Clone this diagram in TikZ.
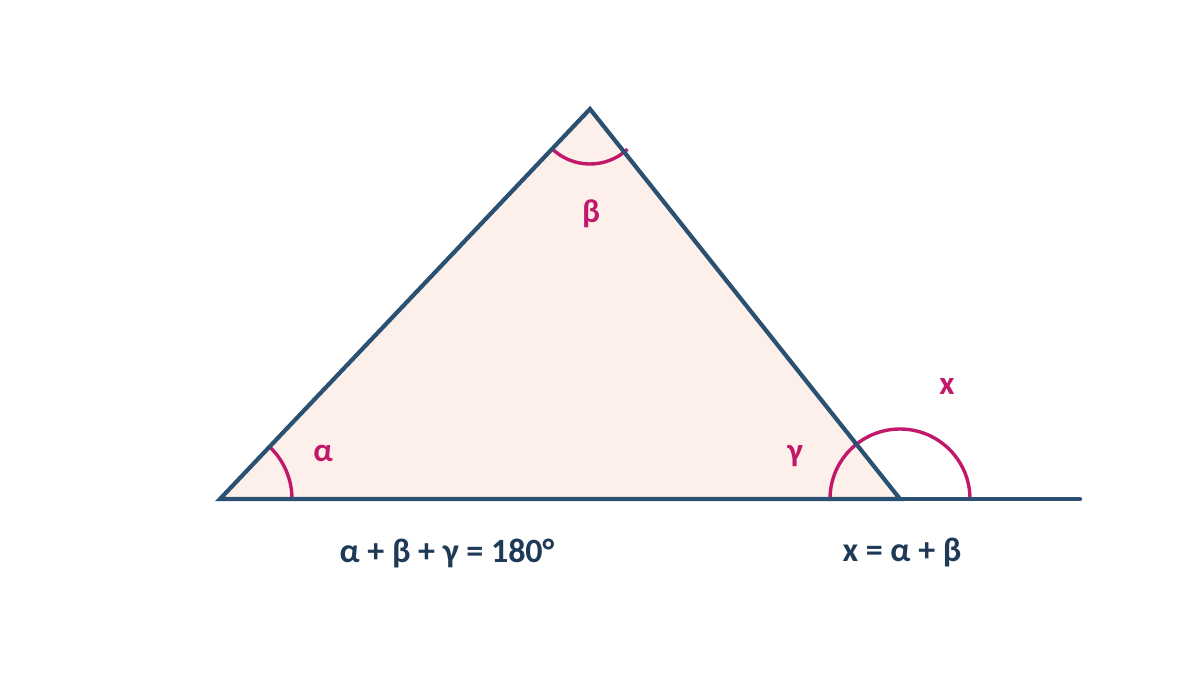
\documentclass[tikz,border=0pt]{standalone}
\usepackage{fontspec}
\setmainfont{Carlito}
\begin{document}
\begin{tikzpicture}[x=0.5pt,y=-0.5pt,
  edge/.style={draw=edgeblue,line width=2.1pt,line cap=round,line join=miter},
  anglearc/.style={draw=arcmag,line width=1.7pt},
  anglelbl/.style={text=arcmag,font=\fontsize{16.5}{19}\selectfont\bfseries,inner sep=0pt},
  formula/.style={text=textnavy,font=\fontsize{17}{20}\selectfont\bfseries,inner sep=0pt}]
\definecolor{edgeblue}{HTML}{2B5172}
\definecolor{arcmag}{HTML}{C2186B}
\definecolor{textnavy}{HTML}{1E3A56}
\definecolor{trifill}{HTML}{FDF0EA}
\useasboundingbox (0,0) rectangle (1200,675);
\coordinate (A) at (220,499);
\coordinate (B) at (590,109);
\coordinate (C) at (900,499);
\coordinate (E) at (1080,499);
\fill[trifill] (A) -- (B) -- (C) -- cycle;
% angle arcs
\draw[anglearc] ([shift={(0:72)}]A) arc[start angle=0,end angle=-46.5,radius=72];
\draw[anglearc] ([shift={(135:55)}]B) arc[start angle=135,end angle=47,radius=55];
\draw[anglearc] ([shift={(0:70)}]C) arc[start angle=0,end angle=-180,radius=70];
% triangle and extension
\draw[edge] (A) -- (B) -- (C) -- cycle;
\draw[edge] (C) -- (E);
% labels
\node[anglelbl] (la) at (323,453) {α};
\node[anglelbl] (lb) at (591,214) {β};
\node[anglelbl] (lg) at (795,456) {γ};
\node[anglelbl] (lx) at (947,386) {x};
\node[formula] (f1) at (447,553) {α + β + γ = 180°};
\node[formula] (f2) at (902,553) {x = α + β};
\end{tikzpicture}
\end{document}
